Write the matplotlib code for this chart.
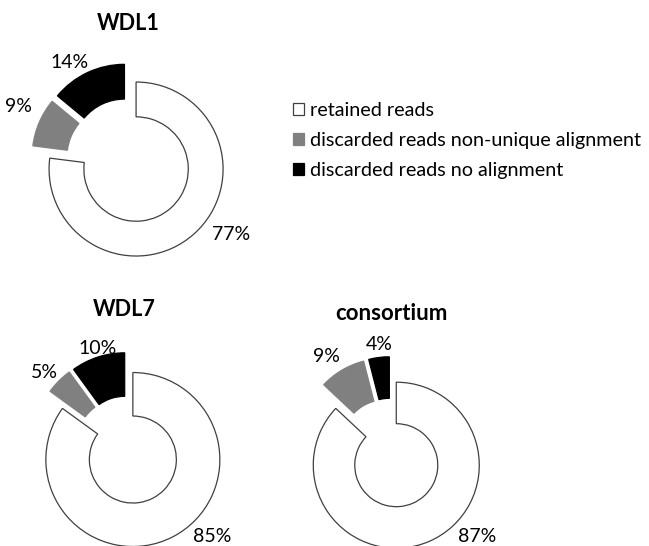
import matplotlib
matplotlib.use("Agg")
import matplotlib.pyplot as plt

plt.rcParams['font.family'] = ['Lato', 'DejaVu Sans']

W, H = 649, 546

categories = ["retained reads", "discarded reads non-unique alignment", "discarded reads no alignment"]
titles = ["WDL1", "WDL7", "consortium"]
values = {
    "WDL1": [77, 9, 14],
    "WDL7": [85, 5, 10],
    "consortium": [87, 9, 4],
}
colors = ["#ffffff", "#808080", "#000000"]
edgecolors = ["#404040", "#808080", "#000000"]

# layout (pixels): centre x, centre y, outer radius, ring width fraction, explode fraction
layout = {
    "WDL1": dict(cx=129, cy=161, R=87, w=0.40, e=0.123,
                 title_xy=(128, 23),
                 label_xy=[(231, 235), (18, 106), (70, 62)]),
    "WDL7": dict(cx=128, cy=450, R=87, w=0.50, e=0.123,
                 title_xy=(124, 309),
                 label_xy=[(212, 536), (44, 372), (98, 349)]),
    "consortium": dict(cx=391, cy=453, R=83, w=0.50, e=0.16,
                       title_xy=(391, 314),
                       label_xy=[(477, 536), (326, 357), (379, 344)]),
}

fig = plt.figure(figsize=(W / 100, H / 100), dpi=100)
fig.patch.set_facecolor("white")

L = 1.45
wedges_for_legend = None
for name in titles:
    p = layout[name]
    half = L * p["R"]
    ax = fig.add_axes([(p["cx"] - half) / W, 1 - (p["cy"] + half) / H,
                       2 * half / W, 2 * half / H])
    vals = values[name]
    wedges, _ = ax.pie(vals, radius=1, startangle=90, counterclock=False,
                       explode=[p["e"]] * len(vals), colors=colors,
                       wedgeprops=dict(width=p["w"], linewidth=0.9))
    for wdg, ec in zip(wedges, edgecolors):
        wdg.set_edgecolor(ec)
    ax.set_xlim(-L, L)
    ax.set_ylim(-L, L)
    ax.set_aspect("auto")
    ax.axis("off")
    if wedges_for_legend is None:
        wedges_for_legend = wedges
    tx, ty = p["title_xy"]
    fig.text(tx / W, 1 - ty / H, name, ha="center", va="center",
             fontsize=16 if name == "consortium" else 15.5, fontweight="bold")
    for v, (lx, ly) in zip(vals, p["label_xy"]):
        fig.text(lx / W, 1 - ly / H, f"{v}%", ha="center", va="center", fontsize=14)

leg = fig.legend(wedges_for_legend, categories, loc="upper left",
                 bbox_to_anchor=(293 / W, 1 - 101.5 / H), frameon=False,
                 fontsize=14.2, handlelength=0.56, handleheight=0.56,
                 handletextpad=0.3, labelspacing=0.68, borderpad=0, borderaxespad=0)

fig.savefig("out.png", dpi=100)
